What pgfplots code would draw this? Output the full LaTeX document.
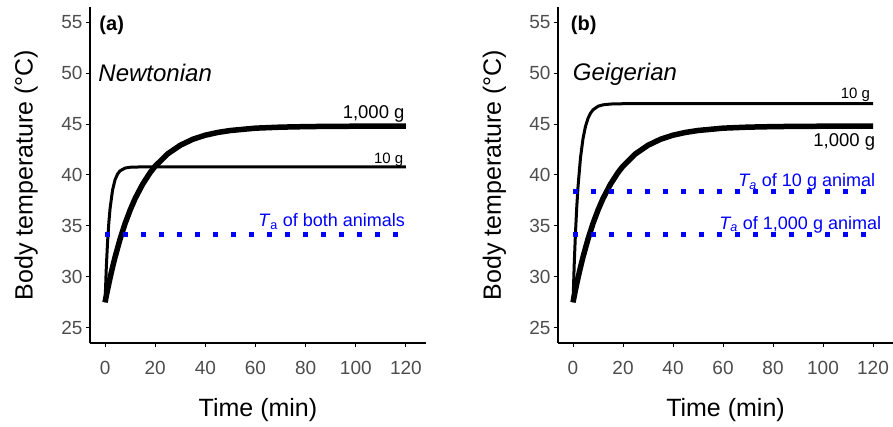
\documentclass[border=0pt]{standalone}
\usepackage{pgfplots}
\pgfplotsset{compat=1.18}
\usepackage{fontspec}
\setmainfont{Liberation Sans}

\definecolor{tickgrey}{HTML}{4D4D4D}
\definecolor{tablue}{HTML}{0000FF}

\pgfplotsset{
  panel/.style={
    scale only axis,
    height=336pt,
    xmin=-6, xmax=128,
    ymin=23.5, ymax=56.5,
    xtick={0,20,...,120},
    ytick={25,30,...,55},
    axis lines*=left,
    axis line style={-, line width=1.2pt, black},
    tick align=outside,
    major tick length=4pt,
    tick style={line width=1pt, black},
    tick label style={font=\fontsize{19}{22}\selectfont, text=tickgrey},
    xticklabel style={yshift=-11pt},
    /pgf/number format/assume math mode=true,
    xlabel={Time (min)},
    ylabel={Body temperature (°C)},
    label style={font=\fontsize{25}{30}\selectfont},
    xlabel style={at={(axis description cs:0.5,-0.2)}, anchor=center},
    ylabel style={at={(axis description cs:-0.19,0.5)}, anchor=center},
    clip=false,
  },
  small/.style={line width=3pt, black},
  big/.style={line width=5.5pt, black},
  ta/.style={line width=5pt, tablue, dash pattern=on 5pt off 13pt},
}

\begin{document}
\begin{tikzpicture}
\useasboundingbox (0,0) rectangle (893pt,427pt);

% (a) Newtonian
\begin{axis}[panel, width=336pt, at={(90pt,84pt)}, anchor=south west]
  \addplot[small] coordinates {
    (0,27.5) (0.5,30.89) (1,33.42) (1.5,35.29) (2,36.70) (3,38.53) (4,39.54)
    (5,40.10) (6,40.41) (8,40.68) (10,40.76) (15,40.80) (120,40.80)
  };
  \addplot[big] coordinates {
    (0,27.5) (1,28.74) (2,29.89) (3,30.95) (4,31.94) (6,33.71) (8,35.24)
    (10,36.55) (12,37.69) (15,39.10) (18,40.24) (20,40.87) (25,42.08)
    (30,42.92) (35,43.51) (40,43.91) (45,44.18) (50,44.37) (60,44.60)
    (70,44.70) (80,44.75) (90,44.78) (100,44.79) (120,44.80)
  };
  \addplot[ta] coordinates {(0,34.15) (122,34.15)};
  \node[anchor=base west, inner sep=0, font=\fontsize{20}{24}\selectfont\bfseries] at (axis cs:-2.3,54.24) {(a)};
  \node[anchor=base west, inner sep=0, font=\fontsize{24}{28}\selectfont\itshape] at (axis cs:-2.7,49.23) {Newtonian};
  \node[anchor=base east, inner sep=0, font=\fontsize{18.5}{22}\selectfont] at (axis cs:119.5,45.57) {1,000 g};
  \node[anchor=base east, inner sep=0, font=\fontsize{15}{18}\selectfont] at (axis cs:119,41.15) {10 g};
  \node[anchor=base east, inner sep=0, text=tablue, font=\fontsize{18}{22}\selectfont] at (axis cs:119.7,34.92) {\textit{T}\textsubscript{a} of both animals};
\end{axis}

% (b) Geigerian
\begin{axis}[panel, width=335pt, at={(558pt,84pt)}, anchor=south west]
  \addplot[small] coordinates {
    (0,27.5) (0.5,31.31) (1,34.38) (1.5,36.84) (2,38.83) (3,41.71) (4,43.57)
    (5,44.78) (6,45.56) (7,46.07) (8,46.40) (10,46.75) (12,46.89) (15,46.97)
    (20,47.0) (120,47.0)
  };
  \addplot[big] coordinates {
    (0,27.5) (1,28.74) (2,29.89) (3,30.95) (4,31.94) (6,33.71) (8,35.24)
    (10,36.55) (12,37.69) (15,39.10) (18,40.24) (20,40.87) (25,42.08)
    (30,42.92) (35,43.51) (40,43.91) (45,44.18) (50,44.37) (60,44.60)
    (70,44.70) (80,44.75) (90,44.78) (100,44.79) (120,44.80)
  };
  \addplot[ta] coordinates {(0,38.4) (122,38.4)};
  \addplot[ta] coordinates {(0,34.15) (122,34.15)};
  \node[anchor=base west, inner sep=0, font=\fontsize{20}{24}\selectfont\bfseries] at (axis cs:-0.9,54.24) {(b)};
  \node[anchor=base west, inner sep=0, font=\fontsize{24}{28}\selectfont\itshape] at (axis cs:-0.1,49.3) {Geigerian};
  \node[anchor=base east, inner sep=0, font=\fontsize{15}{18}\selectfont] at (axis cs:118.9,47.47) {10 g};
  \node[anchor=base east, inner sep=0, font=\fontsize{18.5}{22}\selectfont] at (axis cs:120.9,42.78) {1,000 g};
  \node[anchor=base east, inner sep=0, text=tablue, font=\fontsize{18}{22}\selectfont] at (axis cs:120.9,38.85) {\textit{T\textsubscript{a}} of 10 g animal};
  \node[anchor=base east, inner sep=0, text=tablue, font=\fontsize{18}{22}\selectfont] at (axis cs:123.3,34.67) {\textit{T\textsubscript{a}} of 1,000 g animal};
\end{axis}
\end{tikzpicture}
\end{document}
